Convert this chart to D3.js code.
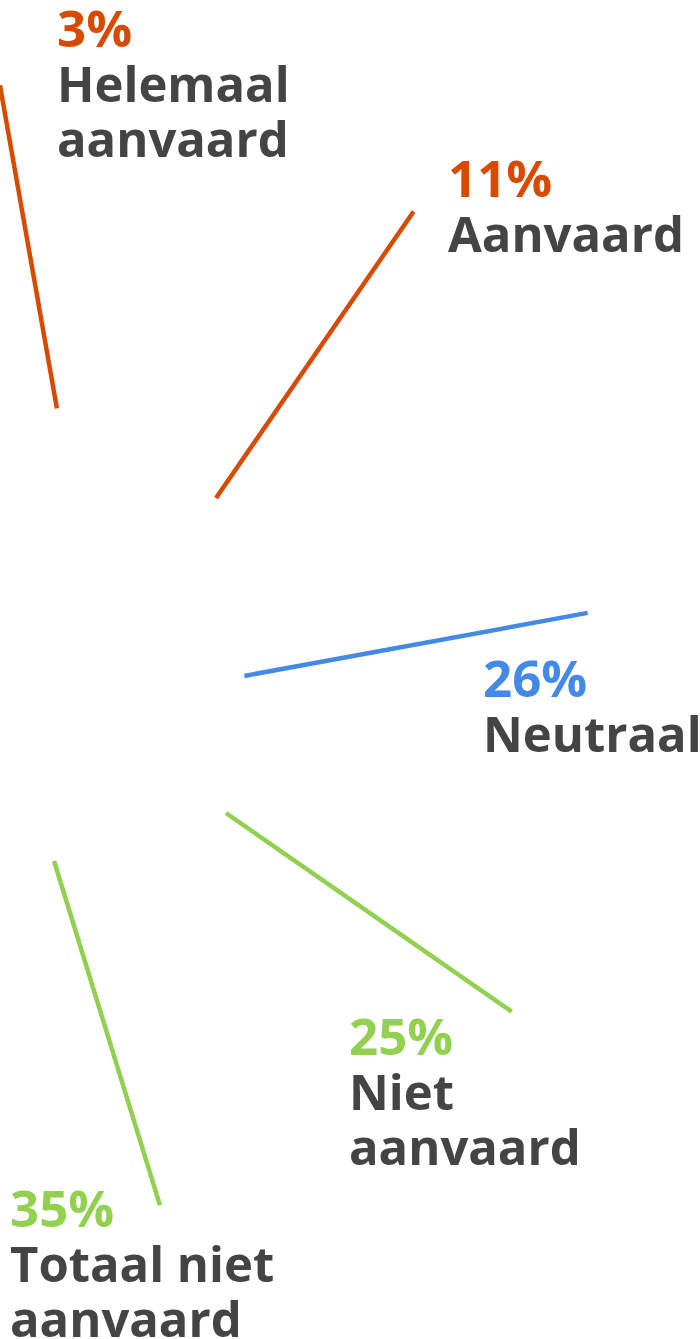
<!DOCTYPE html>
<html>
<head>
<meta charset="utf-8">
<script src="https://cdn.jsdelivr.net/npm/d3@7"></script>
<style>
  html, body { margin: 0; padding: 0; background: #fff; }
  svg { display: block; overflow: hidden; }
</style>
</head>
<body>
<div id="chart"></div>
<script>
// ---- data ----
const categories = ["Helemaal aanvaard", "Aanvaard", "Neutraal", "Niet aanvaard", "Totaal niet aanvaard"];
const labelLines = [["Helemaal", "aanvaard"], ["Aanvaard"], ["Neutraal"], ["Niet", "aanvaard"], ["Totaal niet", "aanvaard"]];
const values = [3, 11, 26, 25, 35];
const colors = ["#d84a00", "#d84a00", "#438ae8", "#92d050", "#92d050"];

// ---- layout (not data) ----
const W = 700, H = 1339;
const center = [72, 706];
// leader line start: polar around center (compass degrees, radius); then direction + length
const startAngle = [-2.9, 34.7, 80.1, 124.8, 186.6];
const startRadius = [298, 253, 175, 187.5, 156];
const lineAngle = [-10, 34.6, 79.6, 124.8, 162.9];
const lineLength = [328, 348, 349, 348, 360];
// label anchors (left x, first baseline y)
const labelX = [57, 448, 483, 349, 10];
const labelY = [47, 197, 697, 1055, 1227];
const lineGap = 55;
const fontSize = 49;
const pctFontSize = 51;

const svg = d3.select("#chart").append("svg").attr("width", W).attr("height", H);

const rad = d => d * Math.PI / 180;
const polar = (a, r, o) => [o[0] + r * Math.sin(rad(a)), o[1] - r * Math.cos(rad(a))];

const pieData = d3.pie().sort(null).value(d => d)(values);
const items = pieData.map((p, i) => {
  const s = polar(startAngle[i], startRadius[i], center);
  const e = polar(lineAngle[i], lineLength[i], s);
  return { p, i, s, e };
});

const line = d3.line();
svg.append("g").selectAll("path").data(items).join("path")
  .attr("d", d => line([d.s, d.e]))
  .attr("fill", "none")
  .attr("stroke", d => colors[d.i])
  .attr("stroke-width", 4.5);

const fmt = d3.format(".0%");
const total = d3.sum(values);

const rows = [];
items.forEach(d => {
  rows.push({ text: fmt(d.p.value / total), x: labelX[d.i], y: labelY[d.i], fill: colors[d.i], size: pctFontSize });
  labelLines[d.i].forEach((l, k) => {
    rows.push({ text: l, x: labelX[d.i], y: labelY[d.i] + lineGap * (k + 1), fill: "#444444", size: fontSize });
  });
});

svg.append("g").selectAll("text").data(rows).join("text")
  .attr("x", d => d.x)
  .attr("y", d => d.y)
  .attr("fill", d => d.fill)
  .attr("font-family", "'Open Sans', 'Noto Sans', sans-serif")
  .attr("font-weight", 700)
  .attr("font-size", d => d.size)
  .text(d => d.text);
</script>
</body>
</html>
